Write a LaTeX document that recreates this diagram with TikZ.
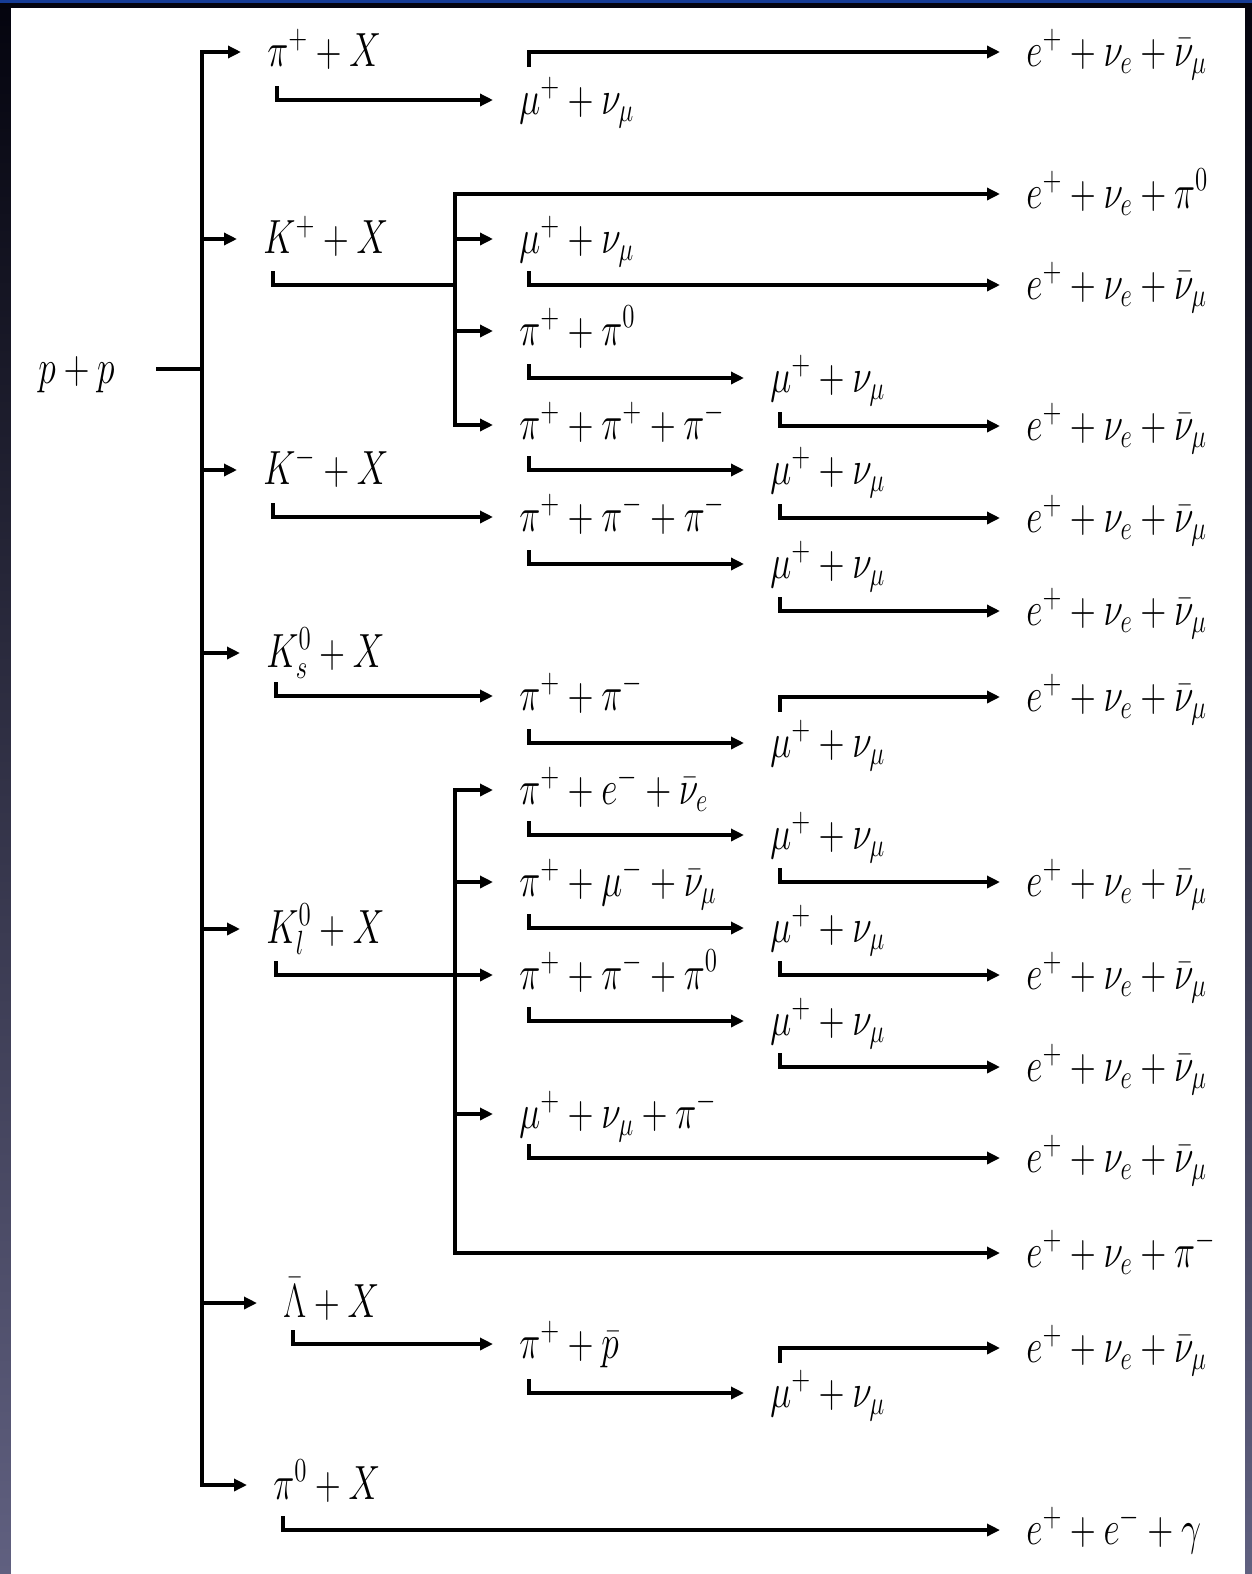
\documentclass[tikz,border=0pt]{standalone}
\usepackage{fix-cm}
\usetikzlibrary{arrows.meta,calc}
\usepackage{graphicx}
\newcommand\pq[1]{\scalebox{0.74}[1]{$#1$}}
\newcommand\dnarr[2]{\draw[arr] let \p1=(#1.base west), \p2=(#2.base west) in (\x1+5pt,\y2+14pt) |- (\x2-13pt,\y2+7pt);}
\newcommand\uparr[2]{\draw[arr] let \p1=(#1.base west), \p2=(#2.base west) in (\x1+5pt,\y2-0.5pt) |- (\x2-13pt,\y2+7pt);}
\newcommand\brarr[2]{\draw[arr] let \p1=(#1), \p2=(#2.base west) in (\x1,\y2+7pt) -- (\x2-13pt,\y2+7pt);}
\definecolor{bgtop}{RGB}{4,4,14}
\definecolor{bgmid}{RGB}{28,28,70}
\definecolor{bgbot}{RGB}{96,96,128}
\definecolor{bgstrip}{RGB}{22,60,150}
\begin{document}
\begin{tikzpicture}[x=0.5pt,y=-0.5pt,
  lab/.style={anchor=base west,inner sep=0pt,yshift=-7pt,font=\fontsize{24}{28}\selectfont},
  ln/.style={line width=1.65pt},
  trunk/.style={ln,line cap=rect},
  arr/.style={ln,-{Triangle[length=6.5pt,width=6pt]}}]
\useasboundingbox (0,0) rectangle (1252,1574);
\shade[top color=bgtop,middle color=bgmid,bottom color=bgbot] (0,0) rectangle (1252,1574);
\fill[bgstrip] (0,0) rectangle (1252,2.5);
\fill[white] (11,8) rectangle (1245,1574);
% level 0 / 1
\node[lab] (pp) at (38,369) {\pq{p+p}};
\node[lab] (piX) at (267,52) {\pq{\pi^+ + X}};
\node[lab] (KpX) at (263,239) {\pq{K^+ + X}};
\node[lab] (KmX) at (263,470) {\pq{K^- + X}};
\node[lab] (KsX) at (266,653) {\pq{K^0_s + X}};
\node[lab] (KlX) at (266,929) {\pq{K^0_l + X}};
\node[lab] (LbX) at (283,1303) {\pq{\bar{\Lambda} + X}};
\node[lab] (pzX) at (273,1485) {\pq{\pi^0 + X}};
% level 2
\node[lab] (mu1) at (519,100) {\pq{\mu^+ + \nu_\mu}};
\node[lab] (eK0) at (1026,194) {\pq{e^+ + \nu_e + \pi^0}};
\node[lab] (muK) at (519,239) {\pq{\mu^+ + \nu_\mu}};
\node[lab] (ppz0) at (519,331) {\pq{\pi^+ + \pi^0}};
\node[lab] (ppp) at (519,425) {\pq{\pi^+ + \pi^+ + \pi^-}};
\node[lab] (pmm) at (519,517) {\pq{\pi^+ + \pi^- + \pi^-}};
\node[lab] (ppm) at (519,696) {\pq{\pi^+ + \pi^-}};
\node[lab] (pev) at (519,790) {\pq{\pi^+ + e^- + \bar{\nu}_e}};
\node[lab] (pmv) at (519,882) {\pq{\pi^+ + \mu^- + \bar{\nu}_\mu}};
\node[lab] (ppp0) at (519,975) {\pq{\pi^+ + \pi^- + \pi^0}};
\node[lab] (mvp) at (519,1114) {\pq{\mu^+ + \nu_\mu + \pi^-}};
\node[lab] (eKl) at (1026,1253) {\pq{e^+ + \nu_e + \pi^-}};
\node[lab] (ppb) at (519,1344) {\pq{\pi^+ + \bar{p}}};
\node[lab] (eeg) at (1026,1530) {\pq{e^+ + e^- + \gamma}};
% level 3 muons
\node[lab] (ma) at (770,378) {\pq{\mu^+ + \nu_\mu}};
\node[lab] (mb) at (770,470) {\pq{\mu^+ + \nu_\mu}};
\node[lab] (mc) at (770,564) {\pq{\mu^+ + \nu_\mu}};
\node[lab] (md) at (770,743) {\pq{\mu^+ + \nu_\mu}};
\node[lab] (me) at (770,835) {\pq{\mu^+ + \nu_\mu}};
\node[lab] (mf) at (770,928) {\pq{\mu^+ + \nu_\mu}};
\node[lab] (mg) at (770,1021) {\pq{\mu^+ + \nu_\mu}};
\node[lab] (mh) at (770,1393) {\pq{\mu^+ + \nu_\mu}};
% final products
\foreach \nm/\yy in {f1/52,f2/285,f3/426,f4/518,f5/611,f6/697,f7/882,f8/975,f9/1067,f10/1158,f11/1348}
  \node[lab] (\nm) at (1026,\yy) {\pq{e^+ + \nu_e + \bar{\nu}_\mu}};
% trunk
\coordinate (t1) at (202,52);
\coordinate (t2) at (202,1485);
\draw[trunk] (t1) -- (t2);
\draw[ln] let \p1=(pp.base east), \p2=(t1) in (\x1+20.5pt,\y1+7pt) -- (\x2,\y1+7pt);
\foreach \nm in {piX,KpX,KmX,KsX,KlX,LbX,pzX} {\brarr{t1}{\nm}}
% pi+
\dnarr{piX}{mu1}
\uparr{mu1}{f1}
% K+
\coordinate (kpt) at (455,194);
\coordinate (kpb) at (455,425);
\coordinate (kpj) at (455,285);
\draw[ln] let \p1=(KpX.base west), \p2=(kpj) in (\x1+5pt,\y2+7pt) |- (kpj);
\draw[trunk] (kpt) -- (kpb);
\foreach \nm in {eK0,muK,ppz0,ppp} {\brarr{kpt}{\nm}}
\dnarr{muK}{f2}
\dnarr{ppz0}{ma}
\dnarr{ma}{f3}
\dnarr{ppp}{mb}
\dnarr{mb}{f4}
% K-
\dnarr{KmX}{pmm}
\dnarr{pmm}{mc}
\dnarr{mc}{f5}
% Ks
\dnarr{KsX}{ppm}
\dnarr{ppm}{md}
\uparr{md}{f6}
% Kl
\coordinate (klt) at (455,790);
\coordinate (klb) at (455,1253);
\draw[trunk] (klt) -- (klb);
\dnarr{KlX}{ppp0}
\foreach \nm in {pev,pmv,mvp,eKl} {\brarr{klt}{\nm}}
\dnarr{pev}{me}
\dnarr{me}{f7}
\dnarr{pmv}{mf}
\dnarr{mf}{f8}
\dnarr{ppp0}{mg}
\dnarr{mg}{f9}
\dnarr{mvp}{f10}
% anti-Lambda
\dnarr{LbX}{ppb}
\dnarr{ppb}{mh}
\uparr{mh}{f11}
% pi0
\dnarr{pzX}{eeg}
\end{tikzpicture}
\end{document}
